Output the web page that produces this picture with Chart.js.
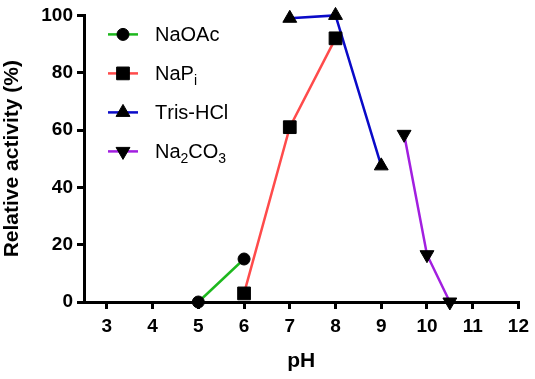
<!DOCTYPE html>
<html lang="en">
<head>
<meta charset="UTF-8">
<title>Relative activity vs pH</title>
<script src="https://cdn.jsdelivr.net/npm/chart.js"></script>
<style>
  html, body { margin:0; padding:0; background:#fff; }
  #wrap { width:535px; height:379px; }
</style>
</head>
<body>
<div id="wrap"><canvas id="phChart" width="535" height="379"></canvas></div>
<script>
// values
const seriesNames = ['NaOAc', 'NaP_i', 'Tris-HCl', 'Na_2CO_3'];
const naOAcPH = [5, 6];
const naOAcAct = [0, 15];
const naPiPH = [6, 7, 8];
const naPiAct = [3, 61, 92];
const trisPH = [7, 8, 9];
const trisAct = [99, 100, 47.5];
const carbPH = [9.5, 10, 10.5];
const carbAct = [58.5, 16.5, 0];
const xTicks = [3, 4, 5, 6, 7, 8, 9, 10, 11, 12];
const yTicks = [0, 20, 40, 60, 80, 100];

function pts(xs, ys) {
  return xs.map((x, i) => ({x: x, y: ys[i]}));
}

const FONT = '"Liberation Sans", Arial, sans-serif';

function ds(label, xs, ys, color, style, radius, rot) {
  return {
    label: label,
    data: pts(xs, ys),
    borderColor: color,
    backgroundColor: color,
    borderWidth: 2.5,
    tension: 0,
    pointStyle: style,
    pointRadius: radius,
    pointRotation: rot || 0,
    pointBackgroundColor: '#000',
    pointBorderColor: '#000',
    pointBorderWidth: 1,
    clip: false
  };
}

// legend drawn by hand so the subscripts stay subscripts
const legendPlugin = {
  id: 'subLegend',
  afterDraw(chart) {
    const ctx = chart.ctx;
    const top = chart.chartArea.top;
    ctx.save();
    chart.data.datasets.forEach((d, i) => {
      const y = top + 19 + i * 39;
      ctx.strokeStyle = d.borderColor;
      ctx.lineWidth = 2.5;
      ctx.beginPath();
      ctx.moveTo(108, y);
      ctx.lineTo(138, y);
      ctx.stroke();
      ctx.fillStyle = '#000';
      ctx.strokeStyle = '#000';
      ctx.lineWidth = 1;
      Chart.helpers.drawPoint(ctx, {pointStyle: d.pointStyle, rotation: d.pointRotation, radius: d.pointRadius, borderWidth: 1}, 123, y);
      // text with _x subscripts
      let x = 155;
      ctx.textBaseline = 'alphabetic';
      ctx.textAlign = 'left';
      const base = y + 7;
      const s = seriesNames[i];
      for (let k = 0; k < s.length; k++) {
        if (s[k] === '_') {
          k++;
          ctx.font = '14px ' + FONT;
          ctx.fillText(s[k], x, base + 5);
          x += ctx.measureText(s[k]).width;
        } else {
          ctx.font = '20px ' + FONT;
          ctx.fillText(s[k], x, base);
          x += ctx.measureText(s[k]).width;
        }
      }
    });
    ctx.restore();
  }
};

const config = {
  type: 'line',
  data: {
    datasets: [
      ds(seriesNames[0], naOAcPH, naOAcAct, '#1db81d', 'circle', 6),
      ds(seriesNames[1], naPiPH, naPiAct, '#ff4b4b', 'rect', 9),
      ds(seriesNames[2], trisPH, trisAct, '#0a0ac8', 'triangle', 8),
      ds(seriesNames[3], carbPH, carbAct, '#a21fe0', 'triangle', 8, 180)
    ]
  },
  options: {
    responsive: false,
    animation: false,
    layout: { padding: { top: 14, right: 15, left: 0, bottom: 0 } },
    plugins: {
      legend: { display: false },
      tooltip: { enabled: false }
    },
    scales: {
      x: {
        type: 'linear',
        min: 2.5,
        max: 12,
        afterBuildTicks: (s) => { s.ticks = xTicks.map(v => ({value: v})); },
        afterFit: (s) => { s.height = 77; },
        border: { color: '#000', width: 3 },
        grid: { drawOnChartArea: false, drawTicks: true, tickLength: 7, color: '#000', lineWidth: 3 },
        ticks: { color: '#000', padding: 6, maxRotation: 0, font: { family: FONT, size: 19, weight: 'bold' } },
        title: { display: true, text: 'pH', color: '#000', padding: { top: 8, bottom: 5 }, font: { family: FONT, size: 21, weight: 'bold' } }
      },
      y: {
        min: 0,
        max: 100,
        afterBuildTicks: (s) => { s.ticks = yTicks.map(v => ({value: v})); },
        afterFit: (s) => { s.width = 84; },
        border: { color: '#000', width: 3 },
        grid: { drawOnChartArea: false, drawTicks: true, tickLength: 7, color: '#000', lineWidth: 3 },
        ticks: { color: '#000', padding: 4, font: { family: FONT, size: 19, weight: 'bold' } },
        title: { display: true, text: 'Relative activity (%)', color: '#000', padding: { top: 0, bottom: 0 }, font: { family: FONT, size: 21, weight: 'bold' } }
      }
    }
  },
  plugins: [legendPlugin]
};

var phChart = new Chart(document.getElementById('phChart'), config);
</script>
</body>
</html>
